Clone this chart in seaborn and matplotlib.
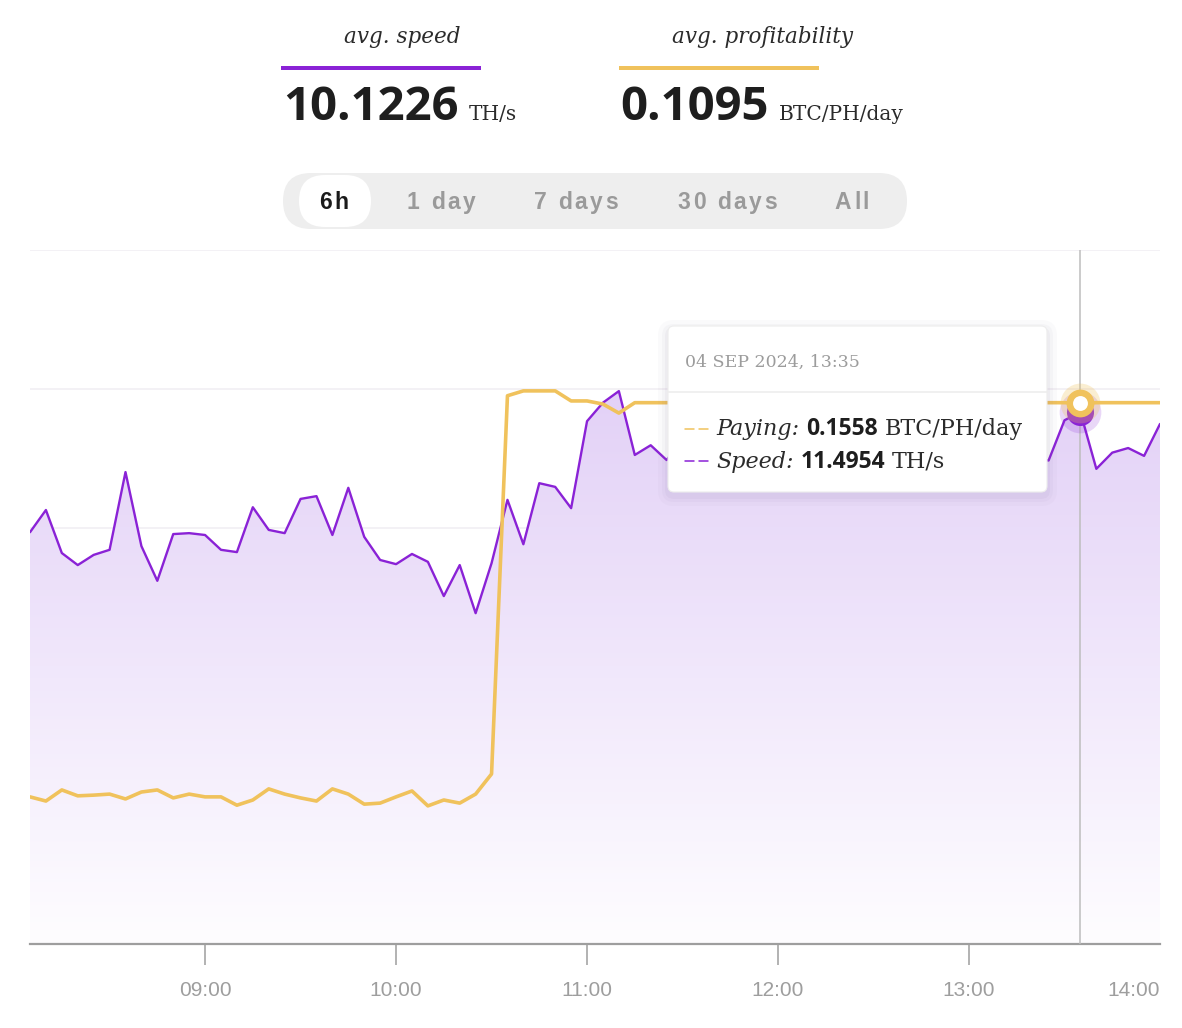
import numpy as np
import pandas as pd
import matplotlib
matplotlib.use("Agg")
import matplotlib.pyplot as plt
import matplotlib.dates as mdates
from matplotlib.patches import FancyBboxPatch, Rectangle
from matplotlib.colors import to_rgb
import seaborn as sns

# ---- data (5 minute samples 08:05 .. 14:00) ----
times = pd.date_range("2024-09-04 08:05", "2024-09-04 14:00", freq="5min")

speed = [8.90, 9.38, 8.45, 8.19, 8.41, 8.52, 10.20, 8.60, 7.85, 8.86,
         8.88, 8.84, 8.52, 8.47, 9.44, 8.95, 8.88, 9.62, 9.68, 8.84,
         9.86, 8.80, 8.30, 8.21, 8.43, 8.26, 7.52, 8.19, 7.15, 8.23,
         9.60, 8.64, 9.96, 9.88, 9.42, 11.30, 11.70, 11.95, 10.57, 10.78,
         10.46, 10.90, 11.30, 10.80, 11.10, 11.50, 11.00, 10.70, 11.20, 11.40,
         10.90, 11.10, 11.60, 11.00, 10.80, 11.30, 11.10, 10.70, 11.00, 11.40,
         10.90, 11.20, 10.80, 10.50, 10.45, 11.32, 11.4954, 10.27, 10.62, 10.72,
         10.55, 11.24]

paying = [0.0424, 0.0412, 0.0444, 0.0427, 0.0429, 0.0432, 0.0418, 0.0438, 0.0444, 0.0421,
          0.0432, 0.0424, 0.0424, 0.0400, 0.0415, 0.0447, 0.0432, 0.0421, 0.0412, 0.0447,
          0.0432, 0.0403, 0.0406, 0.0424, 0.0441, 0.0398, 0.0415, 0.0406, 0.0432, 0.0490,
          0.1580, 0.1594, 0.1594, 0.1594, 0.1565, 0.1565, 0.1556, 0.1530, 0.1560, 0.1560,
          0.1560, 0.1560, 0.1560, 0.1560, 0.1560, 0.1560, 0.1560, 0.1560, 0.1560, 0.1560,
          0.1560, 0.1560, 0.1560, 0.1560, 0.1560, 0.1560, 0.1560, 0.1560, 0.1560, 0.1560,
          0.1560, 0.1560, 0.1560, 0.1560, 0.1560, 0.1560, 0.1558, 0.1560, 0.1560, 0.1560,
          0.1560, 0.1560]

tick_labels = ["09:00", "10:00", "11:00", "12:00", "13:00", "14:00"]
tabs = ["6h", "1 day", "7 days", "30 days", "All"]
hover_time = pd.Timestamp("2024-09-04 13:35")
hover_speed = 11.4954
hover_paying = 0.1558
avg_speed = "10.1226"
avg_profit = "0.1095"

df = pd.DataFrame({"time": times, "speed": speed, "paying": paying})

PURPLE = "#8A22D6"
YELLOW = "#F0C25C"
GREY = "#9E9E9E"

sns.set_theme(style="white")
plt.rcParams["font.family"] = ["Liberation Sans", "DejaVu Sans"]

fig = plt.figure(figsize=(11.82, 10.28), dpi=100)
ax = fig.add_axes([30 / 1182, 84 / 1028, 1130 / 1182, 694 / 1028])

# speed: gradient area + line
poly = ax.fill_between(df["time"], df["speed"], 0, facecolor="none", edgecolor="none")
top_c = np.array(to_rgb("#DCC6F5"))
bot_c = np.array(to_rgb("#FEFDFF"))
frac = np.linspace(0, 1, 256)[:, None]
grad = (top_c * (1 - frac) + bot_c * frac)[:, None, :]
x0, x1 = mdates.date2num(times[0]), mdates.date2num(times[-1])
im = ax.imshow(grad, extent=[x0, x1, 0, 15], aspect="auto", origin="upper", zorder=1)
im.set_clip_path(poly.get_paths()[0], transform=ax.transData)
sns.lineplot(data=df, x="time", y="speed", ax=ax, color=PURPLE, lw=1.7, zorder=3, legend=False)

ax.set_xlim(times[0], times[-1])
ax.set_ylim(0, 15)
ax.set_yticks([0, 3, 6, 9, 12, 15])
ax.set_yticklabels([])
ax.grid(axis="y", color="#F1EFF3", lw=1.2)
ax.grid(axis="x", visible=False)
ax.tick_params(axis="y", length=0)
for s in ["top", "left", "right"]:
    ax.spines[s].set_visible(False)
ax.spines["bottom"].set_color(GREY)
ax.spines["bottom"].set_linewidth(1.6)
ax.set_xlabel("")
ax.set_ylabel("")

ticks = [pd.Timestamp("2024-09-04 " + t) for t in tick_labels]
ax.set_xticks(ticks)
ax.set_xticklabels(tick_labels, fontsize=15, color=GREY)
ax.tick_params(axis="x", direction="out", length=15, width=1.1, color=GREY, pad=12, bottom=True)
ax.get_xticklabels()[-1].set_horizontalalignment("right")
ax.xaxis.get_major_ticks()[-1].tick1line.set_visible(False)

ax.axvline(hover_time, color="#BDBDBD", lw=1.1, zorder=4)
ax.scatter([hover_time], [hover_speed], s=900, color=PURPLE, alpha=0.18, lw=0, zorder=5)
ax.scatter([hover_time], [hover_speed], s=380, color=PURPLE, lw=0, zorder=6)

# paying on a twin axis
ax2 = ax.twinx()
sns.lineplot(data=df, x="time", y="paying", ax=ax2, color=YELLOW, lw=2.6, legend=False)
ax2.set_ylim(0, 0.2)
ax2.set_xlim(times[0], times[-1])
ax2.set_yticks([])
ax2.set_ylabel("")
ax2.set_xlabel("")
ax2.grid(False)
for s in ax2.spines.values():
    s.set_visible(False)
ax2.scatter([hover_time], [hover_paying], s=820, color=YELLOW, alpha=0.28, lw=0, zorder=5)
ax2.scatter([hover_time], [hover_paying], s=400, color=YELLOW, lw=0, zorder=6)
ax2.scatter([hover_time], [hover_paying], s=115, color="white", lw=0, zorder=7)

# ---- overlay in pixel coordinates: header, tabs, tooltip ----
over = fig.add_axes([0, 0, 1, 1], facecolor="none")
over.set_xlim(0, 1182)
over.set_ylim(1028, 0)
over.axis("off")
rend = fig.canvas.get_renderer()


def row(x, y, pieces):
    for s, kw, gap in pieces:
        t = over.text(x, y, s, ha="left", va="baseline", **kw)
        x += t.get_window_extent(renderer=rend).width + gap


def tracked(cx, y, s, track, **kw):
    widths = []
    for ch in s:
        if ch == " ":
            widths.append(kw["fontsize"] * 0.278 * 100 / 72)
            continue
        t = over.text(0, 0, ch, **kw)
        widths.append(t.get_window_extent(renderer=rend).width)
        t.remove()
    x = cx - (sum(widths) + track * (len(s) - 1)) / 2
    for ch, w in zip(s, widths):
        if ch != " ":
            over.text(x, y, ch, ha="left", va="baseline", **kw)
        x += w + track


serif = dict(family="DejaVu Serif", color="#2B2B2B")
serif_it = dict(family="DejaVu Serif", style="italic", color="#2B2B2B")
bold = dict(family="Open Sans", weight="bold", color="#1E1E1E")

over.text(402, 43, "avg. speed", ha="center", va="baseline", fontsize=15.5, **serif_it)
over.text(763, 43, "avg. profitability", ha="center", va="baseline", fontsize=15.5, **serif_it)
over.add_patch(Rectangle((281, 66), 200, 4, color=PURPLE, lw=0))
over.add_patch(Rectangle((619, 66), 200, 4, color=YELLOW, lw=0))
row(283, 120, [(avg_speed, dict(fontsize=34, **bold), 10), ("TH/s", dict(fontsize=14.5, **serif), 0)])
row(620, 120, [(avg_profit, dict(fontsize=34, **bold), 11), ("BTC/PH/day", dict(fontsize=14.5, **serif), 0)])

over.add_patch(FancyBboxPatch((283, 173), 624, 56, boxstyle="round,pad=0,rounding_size=28",
                              fc="#EEEEEE", ec="none"))
over.add_patch(FancyBboxPatch((299, 175), 72, 52, boxstyle="round,pad=0,rounding_size=26",
                              fc="white", ec="none"))
tab_x = [334, 441, 576, 727, 852]
for i, (lab, tx) in enumerate(zip(tabs, tab_x)):
    tracked(tx, 209, lab, 2.6, fontsize=16.5, weight="bold", family="Liberation Sans",
            color="#1A1A1A" if i == 0 else "#9A9A9A")

# tooltip
for k, a in [(10, 0.03), (6, 0.04), (3, 0.05)]:
    over.add_patch(FancyBboxPatch((668 - k, 326 - k + 4), 379 + 2 * k, 166 + 2 * k,
                                  boxstyle="round,pad=0,rounding_size=%d" % (6 + k),
                                  fc="#7A6A90", ec="none", alpha=a))
over.add_patch(FancyBboxPatch((668, 326), 379, 166, boxstyle="round,pad=0,rounding_size=6",
                              fc="white", ec="#EDEDED", lw=0.8))
over.plot([668, 1047], [392, 392], color="#EDEDED", lw=1.2)
over.text(685, 367, "04 SEP 2024, 13:35", ha="left", va="baseline", fontsize=12.5,
          family="DejaVu Serif", color="#9C9C9C")
for yy, c in [(429, YELLOW), (461, PURPLE)]:
    over.plot([685, 694], [yy, yy], color=c, lw=1.1)
    over.plot([699, 708], [yy, yy], color=c, lw=1.1)
row(716, 435, [("Paying:", dict(fontsize=16, **serif_it), 7),
               ("0.1558", dict(fontsize=16.5, **bold), 7),
               ("BTC/PH/day", dict(fontsize=16, **serif), 0)])
row(716, 468, [("Speed:", dict(fontsize=16, **serif_it), 7),
               ("11.4954", dict(fontsize=16.5, **bold), 7),
               ("TH/s", dict(fontsize=16, **serif), 0)])

fig.savefig("out.png", dpi=100)
